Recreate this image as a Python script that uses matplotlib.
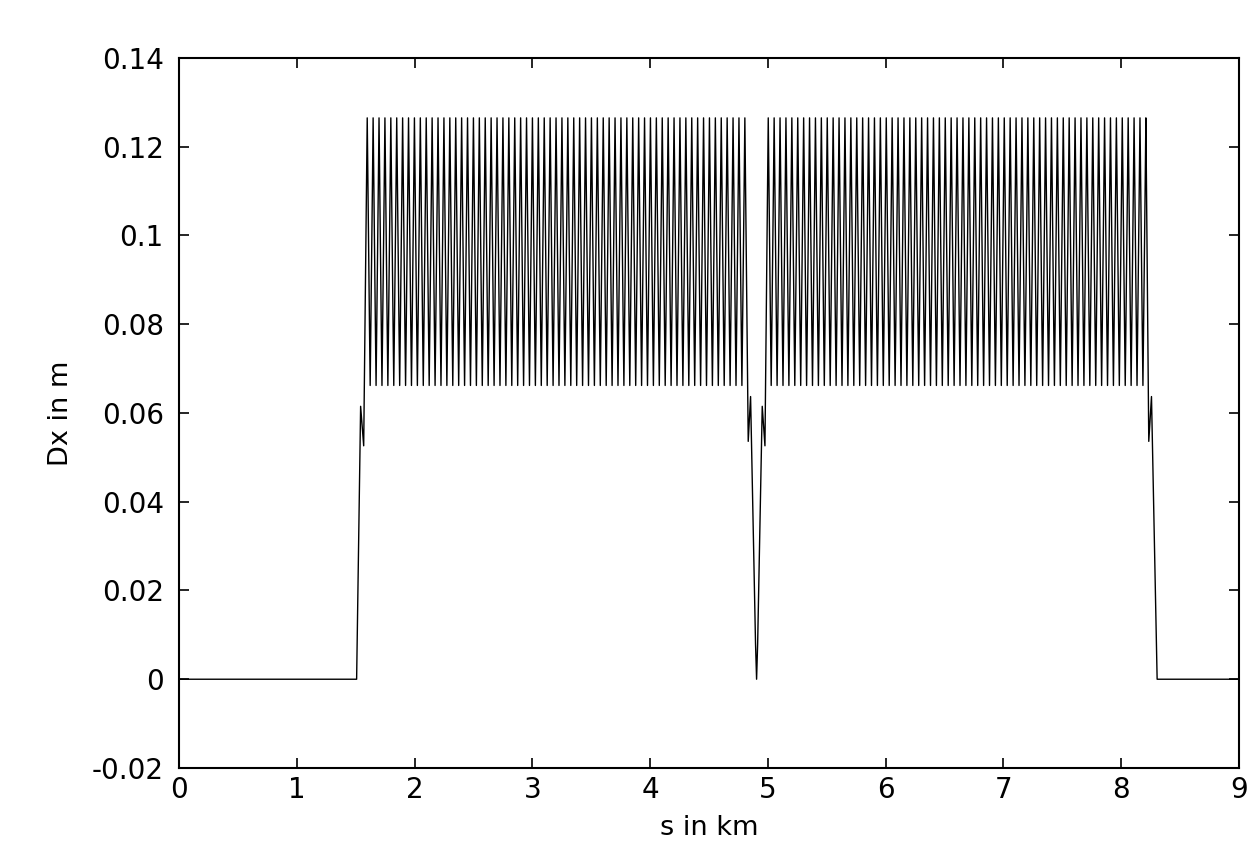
"""
Dispersion Dx along the ring (two FODO arcs with dispersion suppressors).
"""

import numpy as np
import matplotlib
matplotlib.use("Agg")
import matplotlib.pyplot as plt

# --- Werte ---
# Dx (m) innerhalb einer FODO-Zelle, von Maximum (QF) ueber Minimum (QD)
CELL_DX = [0.1265, 0.1105, 0.0955, 0.0805, 0.0662, 0.0805, 0.0955, 0.1105]
CELL_LENGTH = 0.0501          # km
ARC_FIRST_PEAK = [1.598, 5.003]  # km
CELLS_PER_ARC = 64

# Uebergaenge (s in km, Dx in m)
S_IN = [0.0, 1.508, 1.542, 1.568]
DX_IN = [0.0, 0.0, 0.0615, 0.0526]
S_GAP = [4.833, 4.853, 4.895, 4.904, 4.913, 4.952, 4.975]
DX_GAP = [0.0536, 0.0637, 0.008, 0.0, 0.008, 0.0615, 0.0526]
S_OUT = [8.234, 8.257, 8.305, 9.0]
DX_OUT = [0.0536, 0.0637, 0.0, 0.0]

X_TICKS = [0, 1, 2, 3, 4, 5, 6, 7, 8, 9]
Y_TICKS = [-0.02, 0, 0.02, 0.04, 0.06, 0.08, 0.1, 0.12, 0.14]
Y_TICK_LABELS = ["-0.02", "0", "0.02", "0.04", "0.06", "0.08", "0.1", "0.12", "0.14"]


def arc(first_peak):
    n = len(CELL_DX)
    s, dx = [], []
    for c in range(CELLS_PER_ARC):
        for k in range(n):
            s.append(first_peak + (c + k / n) * CELL_LENGTH)
            dx.append(CELL_DX[k])
    s.append(first_peak + CELLS_PER_ARC * CELL_LENGTH)
    dx.append(CELL_DX[0])
    return s, dx


def main():
    s1, d1 = arc(ARC_FIRST_PEAK[0])
    s2, d2 = arc(ARC_FIRST_PEAK[1])
    s = np.array(S_IN + s1 + S_GAP + s2 + S_OUT)
    dx = np.array(DX_IN + d1 + DX_GAP + d2 + DX_OUT)

    plt.rcParams["axes.unicode_minus"] = False
    plt.rcParams["font.family"] = "DejaVu Sans"

    fig = plt.figure(figsize=(12.51, 8.60), dpi=100)
    ax = fig.add_axes([0.1431, 0.1070, 0.8473, 0.8256])
    ax.plot(s, dx, color="black", linewidth=1.0)

    ax.set_xlim(0, 9)
    ax.set_ylim(-0.02, 0.14)
    ax.set_xticks(X_TICKS)
    ax.set_xticklabels([str(t) for t in X_TICKS])
    ax.set_yticks(Y_TICKS)
    ax.set_yticklabels(Y_TICK_LABELS)
    ax.tick_params(direction="in", length=7.5, width=1.2, top=True, right=True,
                   labelsize=20)
    ax.tick_params(axis="x", pad=6)
    ax.tick_params(axis="y", pad=11)
    for sp in ax.spines.values():
        sp.set_linewidth(1.5)

    ax.set_xlabel("s in km", fontsize=19.5, labelpad=8)
    ax.set_ylabel("Dx in m", fontsize=19.5, labelpad=13)

    fig.savefig("out.png", dpi=100)
    plt.close(fig)


if __name__ == "__main__":
    main()
